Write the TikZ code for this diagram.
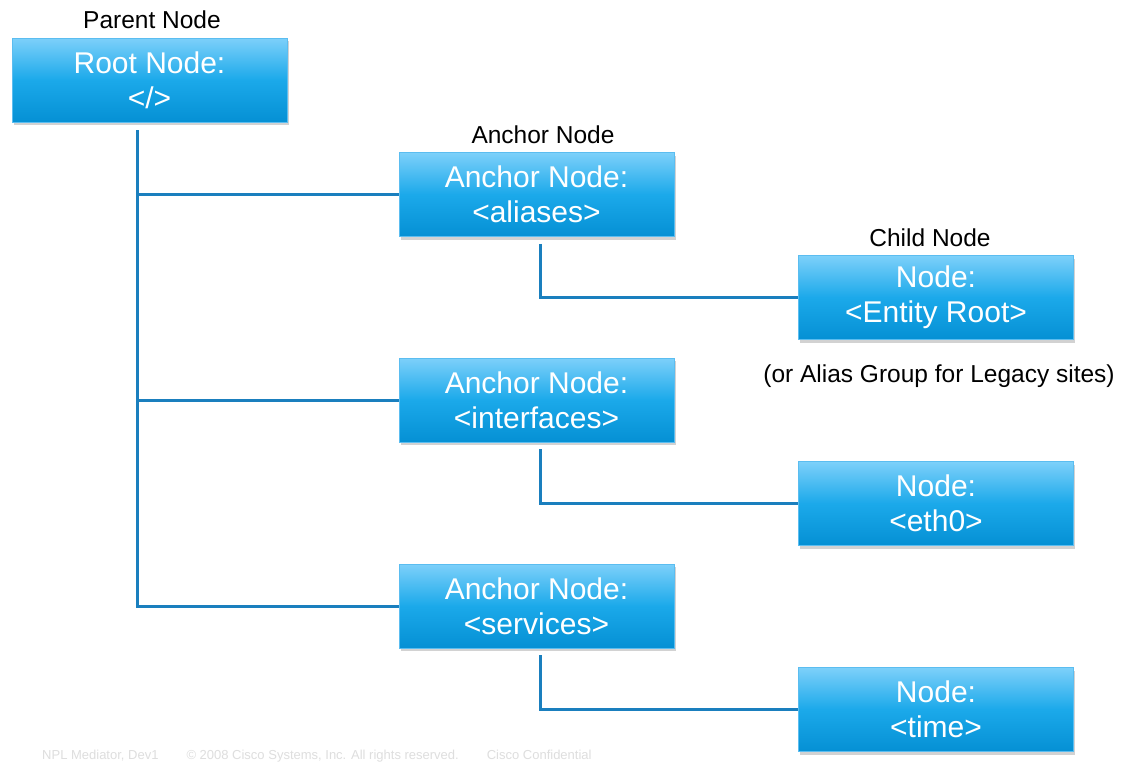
\documentclass[tikz,border=0pt]{standalone}
\usepackage{fontspec}
\setmainfont{Liberation Sans}
\usetikzlibrary{shadows}
\definecolor{linkblue}{HTML}{1A7FBE}
\definecolor{boxtop}{HTML}{7DD0FA}
\definecolor{boxmid}{HTML}{1BA9EA}
\definecolor{boxbot}{HTML}{0590D4}
\definecolor{boxedge}{HTML}{5BBDF0}
\begin{document}
\begin{tikzpicture}[x=1pt,y=-1pt,
  treebox/.style={minimum width=275pt, minimum height=84pt, inner sep=0pt,
    align=center, text=white, draw=boxedge, line width=0.8pt,
    top color=boxtop, bottom color=boxbot, middle color=boxmid,
    drop shadow={shadow xshift=1.5pt, shadow yshift=-3pt, opacity=0.35},
    font=\fontsize{30}{35}\selectfont},
  caption/.style={font=\fontsize{24.5}{28}\selectfont, text=black, inner sep=0pt},
  link/.style={draw=linkblue, line width=3pt},
  footer/.style={font=\fontsize{13}{15}\selectfont, text=black!13, inner sep=0pt, anchor=base west}]
\useasboundingbox (0,0) rectangle (1127,763);
\fill[white] (0,0) rectangle (1127,763);

% boxes
\node[treebox] (root) at (149.5,80) {Root Node:\\</>};
\node[treebox] (a1) at (536.5,194.5) {Anchor Node:\\<aliases>};
\node[treebox] (c1) at (936,297.5) {Node:\\<Entity Root>};
\node[treebox] (a2) at (536.5,400) {Anchor Node:\\<interfaces>};
\node[treebox] (c2) at (936,503.5) {Node:\\<eth0>};
\node[treebox] (a3) at (536.5,606) {Anchor Node:\\<services>};
\node[treebox] (c3) at (936,709.5) {Node:\\<time>};

% captions
\node[caption] (lp) at (152,20) {Parent Node};
\node[caption] (la) at (543,135) {Anchor Node};
\node[caption] (lc) at (930,238) {Child Node};
\node[caption] (note) at (939,376) {(or Alias Group for Legacy sites)};

% connectors
\coordinate (rs) at ([xshift=-12.5pt,yshift=-8pt]root.south);
\draw[link] (rs) |- (a1.west);
\draw[link] (rs) |- (a2.west);
\draw[link] (rs) |- (a3.west);
\draw[link] ([xshift=3.5pt,yshift=-7pt]a1.south) |- (c1.west);
\draw[link] ([xshift=3.5pt,yshift=-7pt]a2.south) |- (c2.west);
\draw[link] ([xshift=3.5pt,yshift=-7pt]a3.south) |- (c3.west);

% faint footer line
\node[footer] (foot) at (42,759) {NPL Mediator, Dev1\hspace{28pt}© 2008 Cisco Systems, Inc. All rights reserved.\hspace{28pt}Cisco Confidential};
\end{tikzpicture}
\end{document}
